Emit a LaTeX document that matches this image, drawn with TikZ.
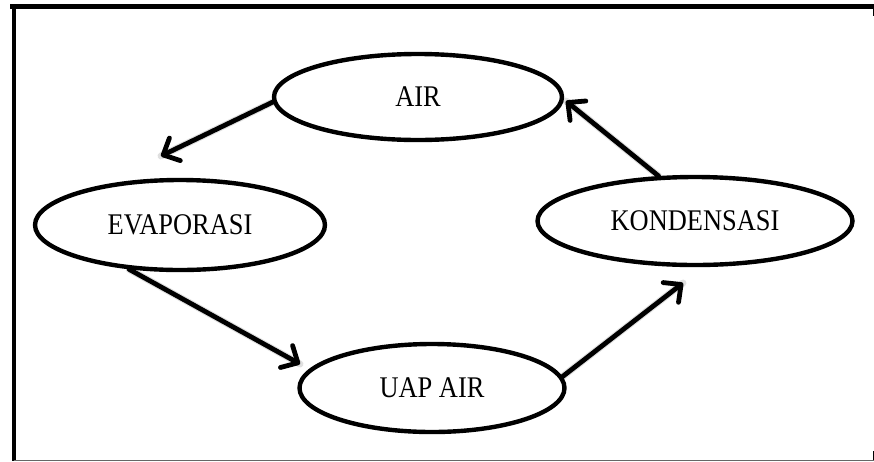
\documentclass[tikz,border=0pt]{standalone}
\usepackage{fontspec}
\setmainfont{Liberation Serif}
\usetikzlibrary{shapes.geometric,arrows.meta}

\newcommand{\stagetext}[1]{\scalebox{0.88}[1]{#1}}

\tikzset{
  stage/.style={ellipse, draw=black, line width=4.4pt, fill=white, inner sep=0pt,
                font=\fontsize{30}{34}\selectfont},
  flow/.style={line width=4.8pt, line cap=round,
               -{Straight Barb[length=13pt,width=25pt,line cap=round,line join=round]}},
  flowshade/.style={line width=7pt, line cap=round, draw=black, opacity=0.12},
}

\begin{document}
\begin{tikzpicture}[x=1pt, y=-1pt]
  \useasboundingbox (0,0) rectangle (874,461);

  % frame of the surrounding cell
  \draw[line width=4.5pt] (10,6.5) -- (874,6.5);
  \draw[line width=4pt] (13.5,4.5) -- (13.5,461);
  \draw[line width=0.8pt, black!60] (13.5,460) -- (874,460);
  \draw[line width=1pt] (873,6) -- (873,16);
  \draw[line width=1pt] (873,451) -- (873,460);

  % stages of the cycle
  \node[stage, minimum width=288pt, minimum height=86pt] (air)  at (418,97)  {\stagetext{AIR}};
  \node[stage, minimum width=290pt, minimum height=90pt] (evap) at (180,225) {\stagetext{EVAPORASI}};
  \node[stage, minimum width=315pt, minimum height=88pt] (kond) at (695,221) {\stagetext{KONDENSASI}};
  \node[stage, minimum width=265pt, minimum height=88pt] (uap)  at (432,388) {\stagetext{UAP AIR}};

  % arrow tips
  \coordinate (t1) at (161,156);
  \coordinate (t2) at (300,364);
  \coordinate (t3) at (683,283);
  \coordinate (t4) at (566,101);

  % soft shadows under the arrows
  \begin{scope}[shift={(2.5,3.5)}]
    \draw[flowshade] (air.182)  -- (t1);
    \draw[flowshade] (evap.221) -- (t2);
    \draw[flowshade] (uap.5)    -- (t3);
    \draw[flowshade] (kond.129) -- (t4);
  \end{scope}

  % arrows
  \draw[flow] (air.182)  -- (t1);
  \draw[flow] (evap.221) -- (t2);
  \draw[flow] (uap.5)    -- (t3);
  \draw[flow] (kond.129) -- (t4);
\end{tikzpicture}
\end{document}
